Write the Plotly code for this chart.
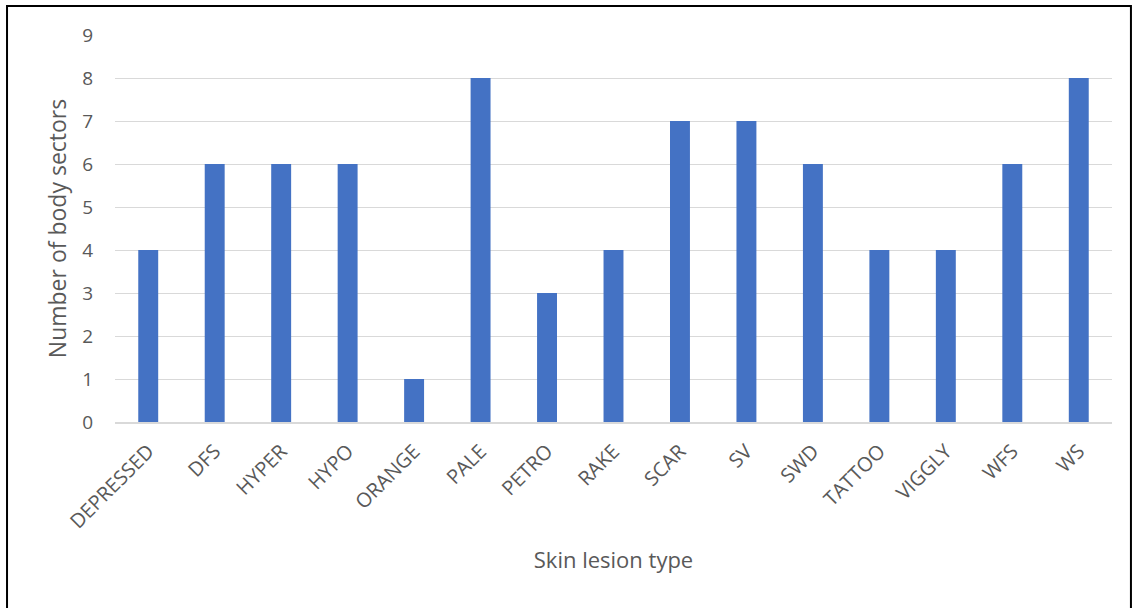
import plotly.graph_objects as go

# lesion types and how many body sectors each was seen in
lesion_types = ['DEPRESSED', 'DFS', 'HYPER', 'HYPO', 'ORANGE', 'PALE', 'PETRO', 'RAKE',
                'SCAR', 'SV', 'SWD', 'TATTOO', 'VIGGLY', 'WFS', 'WS']
body_sectors = [4, 6, 6, 6, 1, 8, 3, 4, 7, 7, 6, 4, 4, 6, 8]
y_ticks = list(range(0, 10))

font_family = 'Open Sans, Liberation Sans, sans-serif'
grey_text = '#595959'

fig = go.Figure(
    go.Bar(
        x=lesion_types,
        y=body_sectors,
        marker=dict(color='#4472C4', line=dict(width=0)),
    )
)

fig.update_layout(
    width=1134,
    height=608,
    plot_bgcolor='white',
    paper_bgcolor='white',
    margin=dict(l=115, r=22, t=35, b=186),
    bargap=0.7,
    showlegend=False,
    font=dict(family=font_family, color=grey_text, size=19),
)

fig.update_xaxes(
    tickangle=-45,
    tickfont=dict(size=20, color=grey_text),
    showgrid=False,
    showline=True,
    linecolor='#d9d9d9',
    linewidth=1.5,
    ticklabelstandoff=8,
    title=dict(text='Skin lesion type', font=dict(size=22, color=grey_text), standoff=20),
    automargin=False,
)

fig.update_yaxes(
    range=[0, 9],
    tickvals=y_ticks,
    tickfont=dict(size=19, color=grey_text),
    showgrid=True,
    gridcolor='#d9d9d9',
    gridwidth=1,
    zeroline=False,
    ticklabelstandoff=21,
    title=dict(text='Number of body sectors', font=dict(size=23, color=grey_text), standoff=9),
    automargin=False,
)

# outer chart border
fig.add_shape(
    type='rect', xref='paper', yref='paper',
    x0=-0.1083, x1=1.019, y0=-0.49, y1=1.075,
    line=dict(color='black', width=2), fillcolor='rgba(0,0,0,0)',
)

# drop the default 8px page margin so the figure sits at the window corner
fig.write_html('out.html', config={'displayModeBar': False},
               post_script="document.body.style.margin='0';")
